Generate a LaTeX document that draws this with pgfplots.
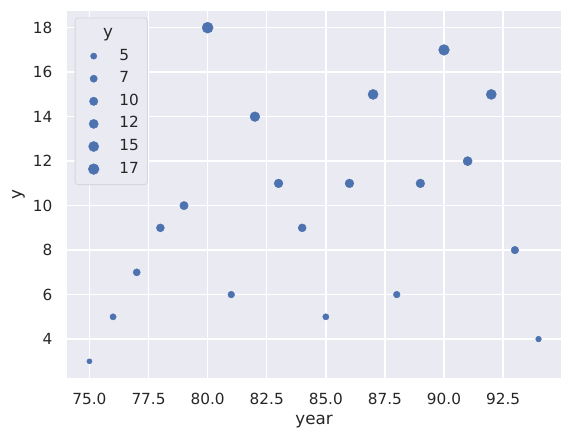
\documentclass[border=0pt]{standalone}
\usepackage{fontspec}
\setmainfont{DejaVu Sans}
\usepackage{pgfplots}
\pgfplotsset{compat=1.18}
\usepackage{pgfplotstable}
\definecolor{sbbg}{HTML}{EAEAF2}
\definecolor{sbblue}{HTML}{4C72B0}
\definecolor{sbtext}{HTML}{262626}
\definecolor{legframe}{HTML}{D6D6DE}
\pgfplotstableread{
year y
75 3
76 5
77 7
78 9
79 10
80 18
81 6
82 14
83 11
84 9
85 5
86 11
87 15
88 6
89 11
90 17
91 12
92 15
93 8
94 4
}\datatable
\begin{document}
\begin{tikzpicture}
\begin{axis}[
  name=ax,
  scale only axis,
  width=494bp, height=367bp,
  xmin=74.05, xmax=94.95,
  ymin=2.25, ymax=18.75,
  xtick={75,77.5,...,92.5},
  ytick={4,6,...,18},
  xticklabel style={/pgf/number format/.cd, fixed, fixed zerofill, precision=1},
  /pgf/number format/assume math mode=true,
  axis background/.style={fill=sbbg},
  axis line style={draw=none},
  major tick length=0pt,
  grid=major,
  major grid style={white, line width=1.39bp},
  tick label style={font=\fontsize{15.3bp}{18bp}\selectfont, text=sbtext, inner sep=0pt},
  xticklabel shift=15bp,
  yticklabel shift=14.5bp,
  xlabel={year}, ylabel={y},
  every axis x label/.style={at={(rel axis cs:0.5,0)}, anchor=center, yshift=-44bp, font=\fontsize{16.7bp}{20bp}\selectfont, text=sbtext},
  every axis y label/.style={at={(rel axis cs:0,0.5)}, anchor=center, xshift=-48.5bp, rotate=90, font=\fontsize{16.7bp}{20bp}\selectfont, text=sbtext},
  legend cell align=left,
  legend image code/.code={\path[draw=none, fill=none] (0bp,-1bp) rectangle (35.8bp,1bp);\draw[#1] plot coordinates {(12.1bp,0bp)};},
  legend style={at={(rel axis cs:0.0156,0.982)}, anchor=north west,
    fill=sbbg, draw=legframe, line width=0.8bp, rounded corners=3bp,
    inner sep=6.5bp, row sep=4.6bp,
    font=\fontsize{15.3bp}{18bp}\selectfont, text=sbtext,
    nodes={inner sep=2bp, text height=11bp, text depth=3bp, rounded corners=0pt},
  },
  clip=false,
]
\addlegendimage{empty legend}
\addlegendentry{\makebox[0pt][r]{\fontsize{16.7bp}{20bp}\selectfont y\hspace{6.5bp}}}
\addplot[
  only marks, mark=*, color=sbblue,
  visualization depends on={\thisrow{y} \as \yv},
  scatter, scatter/use mapped color={fill=sbblue, draw=sbblue},
  scatter/@pre marker code/.append style={/tikz/mark size={0.6945*sqrt(18+3.6*(\yv-3))-0.35}},
  forget plot,
] table[x=year, y=y] {\datatable};
\addlegendimage{only marks, mark=*, color=sbblue, mark size=3.14bp, line width=0.4pt}
\addlegendentry{5}
\addlegendimage{only marks, mark=*, color=sbblue, mark size=3.60bp, line width=0.4pt}
\addlegendentry{7}
\addlegendimage{only marks, mark=*, color=sbblue, mark size=4.21bp, line width=0.4pt}
\addlegendentry{10}
\addlegendimage{only marks, mark=*, color=sbblue, mark size=4.58bp, line width=0.4pt}
\addlegendentry{12}
\addlegendimage{only marks, mark=*, color=sbblue, mark size=5.08bp, line width=0.4pt}
\addlegendentry{15}
\addlegendimage{only marks, mark=*, color=sbblue, mark size=5.39bp, line width=0.4pt}
\addlegendentry{17}
\end{axis}
\pgfresetboundingbox
\path ([shift={(-67bp,-63bp)}]ax.south west) rectangle ([shift={(11bp,11bp)}]ax.north east);
\end{tikzpicture}
\end{document}
